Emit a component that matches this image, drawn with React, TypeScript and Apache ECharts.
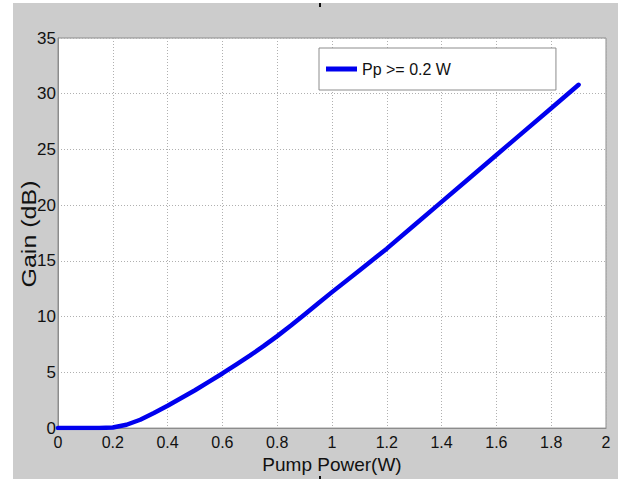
import React, { useEffect, useRef } from "react";
import * as echarts from "echarts";

const pumpPower = [0, 0.05, 0.1, 0.15, 0.2, 0.25, 0.3, 0.35, 0.4, 0.45, 0.5, 0.55, 0.6, 0.65, 0.7, 0.75, 0.8, 0.85, 0.9, 0.95, 1.0, 1.1, 1.2, 1.3, 1.4, 1.5, 1.6, 1.7, 1.8, 1.9];
const gain = [0, 0, 0, 0, 0.05, 0.3, 0.75, 1.35, 2.0, 2.7, 3.4, 4.15, 4.9, 5.7, 6.5, 7.35, 8.25, 9.2, 10.2, 11.2, 12.2, 14.15, 16.1, 18.2, 20.3, 22.4, 24.5, 26.6, 28.7, 30.8];
const seriesName = "Pp >= 0.2 W";
const xTitle = "Pump Power(W)";
const yTitle = "Gain (dB)";

const narrow = "'Liberation Sans Narrow', 'Arial Narrow', 'Liberation Sans', Arial, sans-serif";
const sans = "'Liberation Sans', Arial, sans-serif";

export default function App() {
  const ref = useRef<HTMLDivElement>(null);
  useEffect(() => {
    if (!ref.current) return;
    const chart = echarts.init(ref.current, undefined, { renderer: "svg" });
    const data = pumpPower.map((x, i) => [x, gain[i]]);
    chart.setOption({
      animation: false,
      backgroundColor: "#cccccc",
      grid: {
        left: 58,
        right: 12,
        top: 38,
        bottom: 49,
        show: true,
        backgroundColor: "#ffffff",
        borderColor: "#8c8c8c",
        borderWidth: 1,
      },
      legend: {
        left: 319,
        top: 48,
        data: [seriesName],
        icon: "rect",
        itemWidth: 31,
        itemHeight: 5,
        backgroundColor: "#ffffff",
        borderColor: "#8c8c8c",
        borderWidth: 1,
        borderRadius: 0,
        padding: [13, 105, 13, 7],
        textStyle: { fontFamily: narrow, fontSize: 16, color: "#111" },
      },
      xAxis: {
        type: "value",
        min: 0,
        max: 2,
        interval: 0.2,
        name: xTitle,
        nameLocation: "middle",
        nameGap: 20,
        nameTextStyle: { fontFamily: sans, fontSize: 19, color: "#111" },
        axisLine: { show: true, lineStyle: { color: "#8c8c8c" } },
        axisTick: { show: false },
        axisLabel: { fontFamily: narrow, fontSize: 16, color: "#111", margin: 6 },
        splitLine: { show: true, lineStyle: { color: "#b0b0b0", type: [1, 2], width: 1 } },
      },
      yAxis: {
        type: "value",
        min: 0,
        max: 35,
        interval: 5,
        axisLine: { show: true, lineStyle: { color: "#8c8c8c" } },
        axisTick: { show: false },
        axisLabel: { fontFamily: narrow, fontSize: 17, color: "#111", margin: 2 },
        splitLine: { show: true, lineStyle: { color: "#b0b0b0", type: [1, 2], width: 1 } },
      },
      graphic: [
        { type: "rect", shape: { x: 0, y: 0, width: 13, height: 479 }, style: { fill: "#ffffff" }, silent: true },
        { type: "rect", shape: { x: 0, y: 0, width: 618, height: 3 }, style: { fill: "#ffffff" }, silent: true },
        { type: "rect", shape: { x: 319, y: 3, width: 2, height: 4 }, style: { fill: "#111" }, silent: true },
        { type: "rect", shape: { x: 319, y: 476, width: 2, height: 3 }, style: { fill: "#111" }, silent: true },
        {
          type: "text",
          x: 29,
          y: 234,
          rotation: Math.PI / 2,
          scaleX: 1.25,
          scaleY: 1.0,
          style: {
            text: yTitle,
            fontFamily: sans,
            fontSize: 20,
            fill: "#111",
            textAlign: "center",
            textVerticalAlign: "middle",
          },
        },
      ],
      series: [
        {
          name: seriesName,
          type: "line",
          data,
          showSymbol: false,
          smooth: false,
          lineStyle: { color: "#0000ee", width: 4.5, join: "round", cap: "round" },
          itemStyle: { color: "#0000ee" },
        },
      ],
    });
    return () => chart.dispose();
  }, []);
  return <div ref={ref} style={{ position: "absolute", left: 0, top: 0, width: 618, height: 479 }} />;
}
